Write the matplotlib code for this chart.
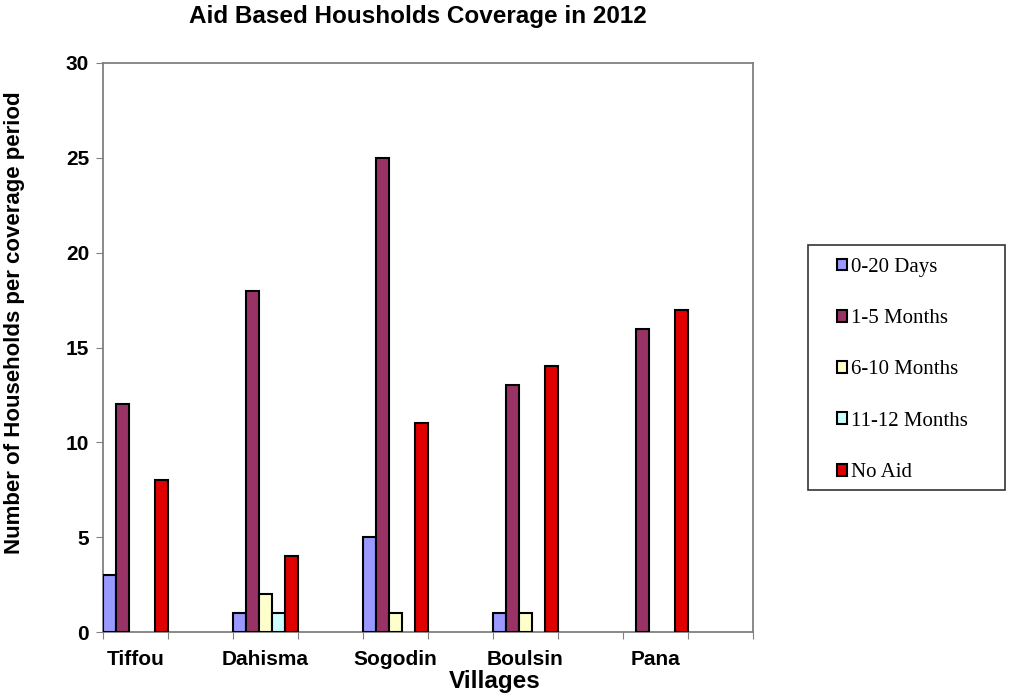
import matplotlib
matplotlib.use("Agg")
import matplotlib.pyplot as plt
from matplotlib.patches import Patch, Rectangle
import numpy as np

plt.rcParams["font.family"] = ["Liberation Sans", "DejaVu Sans"]

villages = ["Tiffou", "Dahisma", "Sogodin", "Boulsin", "Pana"]
series_names = ["0-20 Days", "1-5 Months", "6-10 Months", "11-12 Months", "No Aid"]
days_0_20 = [3, 1, 5, 1, 0]
months_1_5 = [12, 18, 25, 13, 16]
months_6_10 = [0, 2, 1, 1, 0]
months_11_12 = [0, 1, 0, 0, 0]
no_aid = [8, 4, 11, 14, 17]
series_values = [days_0_20, months_1_5, months_6_10, months_11_12, no_aid]
colors = ["#9999FF", "#993366", "#FFFFCC", "#CCFFFF", "#E00000"]

W, H = 1009, 693
fig = plt.figure(figsize=(W/100, H/100), dpi=100)
ax = fig.add_axes([103/W, 1-632/H, (753-103)/W, (632-63)/H])

n = len(villages)
bw = 0.1
x = np.arange(n)
for j, (name, vals, c) in enumerate(zip(series_names, series_values, colors)):
    vals = np.array(vals, dtype=float)
    h = ax.bar(x + j*bw, vals, width=bw, align="edge", color=c,
               edgecolor="black", linewidth=1.5, zorder=3)
    for rect, v in zip(h.patches, vals):
        if v == 0:
            rect.set_visible(False)

ax.set_xlim(0, n)
ax.set_ylim(0, 30)
ax.set_yticks(range(0, 31, 5))
ax.set_xticks(np.arange(0, n + 0.01, 0.5))
ax.set_xticklabels([])
ax.set_xticks(x + 0.25, minor=True)
ax.set_xticklabels(villages, minor=True, fontweight="bold", fontsize=15)
ax.tick_params(axis="x", which="minor", length=0, pad=13)
ax.tick_params(axis="x", which="major", length=5, direction="out", color="#808080")
ax.tick_params(axis="y", length=5, direction="out", color="#808080", labelsize=15, pad=5)
for t in ax.get_yticklabels():
    t.set_fontweight("bold")
for s in ax.spines.values():
    s.set_color("#808080")
    s.set_linewidth(1.3)

fig.text(495/W, 1-688/H, "Villages", ha="center", va="baseline", fontweight="bold", fontsize=17.5)
fig.text(15/W, 1-323/H, "Number of Households per coverage period", ha="center", va="center",
         rotation=90, fontweight="bold", fontsize=16)
fig.text(418/W, 1-23/H, "Aid Based Housholds Coverage in 2012", ha="center", va="baseline",
         fontweight="bold", fontsize=17.5)

# legend frame
fig.patches.append(Rectangle((808/W, 1-490/H), (1005-808)/W, (490-245)/H,
                             transform=fig.transFigure, facecolor="white",
                             edgecolor="#333333", linewidth=1.2, zorder=0))
handles = [Patch(facecolor=c, edgecolor="black", linewidth=1.5) for c in colors]
leg = fig.legend(handles=handles, labels=series_names, loc="center left",
                 bbox_to_anchor=(837/W, 1-370/H),
                 prop={"family": "Liberation Serif", "size": 15},
                 frameon=False,
                 handlelength=0.5, handleheight=0.5, handletextpad=0.15,
                 labelspacing=1.55, borderpad=0, borderaxespad=0)

fig.savefig("out.png", dpi=100)
